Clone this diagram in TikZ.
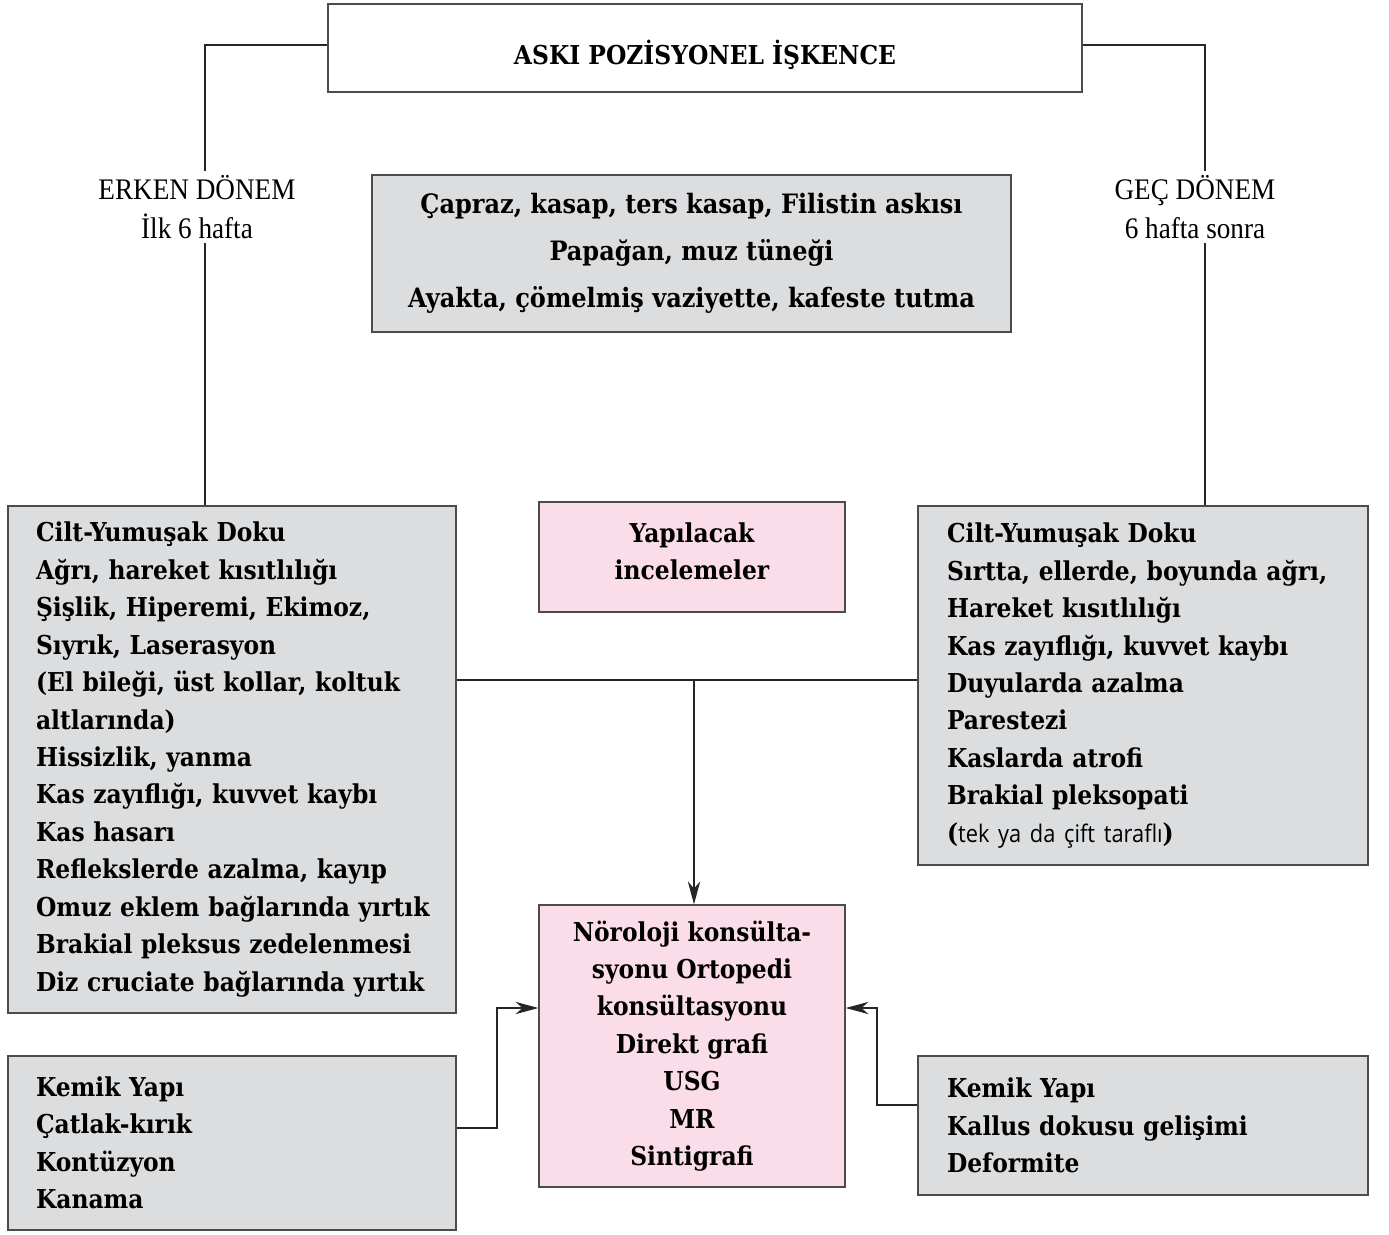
\documentclass[tikz,border=0pt]{standalone}
\usepackage{fontspec}
\setmainfont{Liberation Serif}
\newfontfamily\notefont[FakeStretch=0.9]{Open Sans}
\newfontfamily\periodfont[FakeStretch=0.91]{Liberation Serif}
\newfontfamily\boxfont{DejaVu Serif Condensed Bold}
\usetikzlibrary{arrows.meta}
\definecolor{boxgrey}{HTML}{DCDDDF}
\definecolor{boxpink}{HTML}{FADDE8}
\tikzset{
  box/.style={draw=black!70, line width=0.8pt, rectangle, inner sep=0pt, align=center,
    font=\boxfont\fontsize{14.8}{21.3}\selectfont},
  greybox/.style={box, fill=boxgrey},
  pinkbox/.style={box, fill=boxpink},
  listbox/.style={greybox, align=left, text width=7.84cm},
  period/.style={align=center, inner sep=2pt, font=\periodfont\fontsize{17}{22.7}\selectfont},
  link/.style={line width=0.7pt, black!85},
  arr/.style={link, -{Stealth[length=13pt,width=7pt,inset=4pt]}}
}

\begin{document}
\begin{tikzpicture}[x=0.02cm,y=-0.02cm]
\useasboundingbox (0,0) rectangle (1389,1234);

% top
\node[box, minimum width=15.08cm, minimum height=1.76cm] (title) at (705,48)
  {\raisebox{-4pt}[\height][\depth]{ASKI POZİSYONEL İŞKENCE}};
\node[greybox, minimum width=12.78cm, minimum height=3.14cm, font=\boxfont\fontsize{15.2}{26.6}\selectfont] (methods) at (691.5,253.5)
  {Çapraz, kasap, ters kasap, Filistin askısı\\Papağan, muz tüneği\\Ayakta, çömelmiş vaziyette, kafeste tutma};

% periods
\node[period] (erken) at (197,207) {ERKEN DÖNEM\\İlk 6 hafta};
\node[period] (gec) at (1195,207) {GEÇ DÖNEM\\6 hafta sonra};
\coordinate (lx) at (205,0);
\coordinate (rx) at (1205,0);

% findings
\node[listbox, minimum width=8.96cm, minimum height=10.14cm] (early) at (232,759.5)
  {Cilt-Yumuşak Doku\\Ağrı, hareket kısıtlılığı\\Şişlik, Hiperemi, Ekimoz,\\Sıyrık, Laserasyon\\(El bileği, üst kollar, koltuk\\altlarında)\\Hissizlik, yanma\\Kas zayıflığı, kuvvet kaybı\\Kas hasarı\\Reflekslerde azalma, kayıp\\\mbox{Omuz eklem bağlarında yırtık}\\Brakial pleksus zedelenmesi\\\mbox{Diz cruciate bağlarında yırtık}};
\node[listbox, minimum width=9.0cm, minimum height=7.18cm] (late) at (1143,685.5)
  {Cilt-Yumuşak Doku\\\mbox{Sırtta, ellerde, boyunda ağrı,}\\Hareket kısıtlılığı\\Kas zayıflığı, kuvvet kaybı\\Duyularda azalma\\Parestezi\\Kaslarda atrofi\\Brakial pleksopati\\({\notefont\fontsize{13.8}{21.3}\selectfont tek ya da çift taraflı})};

% examinations
\node[pinkbox, minimum width=6.12cm, minimum height=2.2cm] (exam) at (692,557)
  {Yapılacak\\incelemeler\\[-14.5pt]};
\node[pinkbox, minimum width=6.12cm, minimum height=5.64cm] (consult) at (692,1046)
  {Nöroloji konsülta-\\syonu Ortopedi\\konsültasyonu\\Direkt grafi\\USG\\MR\\Sintigrafi};

% bone
\node[listbox, minimum width=8.96cm, minimum height=3.48cm] (bonel) at (232,1143)
  {Kemik Yapı\\Çatlak-kırık\\Kontüzyon\\Kanama};
\node[listbox, minimum width=9.0cm, minimum height=2.78cm] (boner) at (1143,1125.5)
  {Kemik Yapı\\Kallus dokusu gelişimi\\Deformite};

% connectors
\draw[link] (title.west |- 0,45) -| (lx |- erken.north);
\draw[link] (lx |- erken.south) -- (lx |- early.north);
\draw[link] (title.east |- 0,45) -| (rx |- gec.north);
\draw[link] (rx |- gec.south) -- (rx |- late.north);

\coordinate (hy) at (694,680);
\draw[link] (hy -| early.east) -- (hy -| late.west);
\draw[arr] (hy) -- (hy |- consult.north);

\coordinate (lbend) at (497,1008);
\coordinate (rbend) at (877,1008);
\draw[arr] (bonel.east |- 0,1128) -| (lbend) -- (lbend -| consult.west);
\draw[arr] (boner.west |- 0,1105) -| (rbend) -- (rbend -| consult.east);
\end{tikzpicture}
\end{document}
